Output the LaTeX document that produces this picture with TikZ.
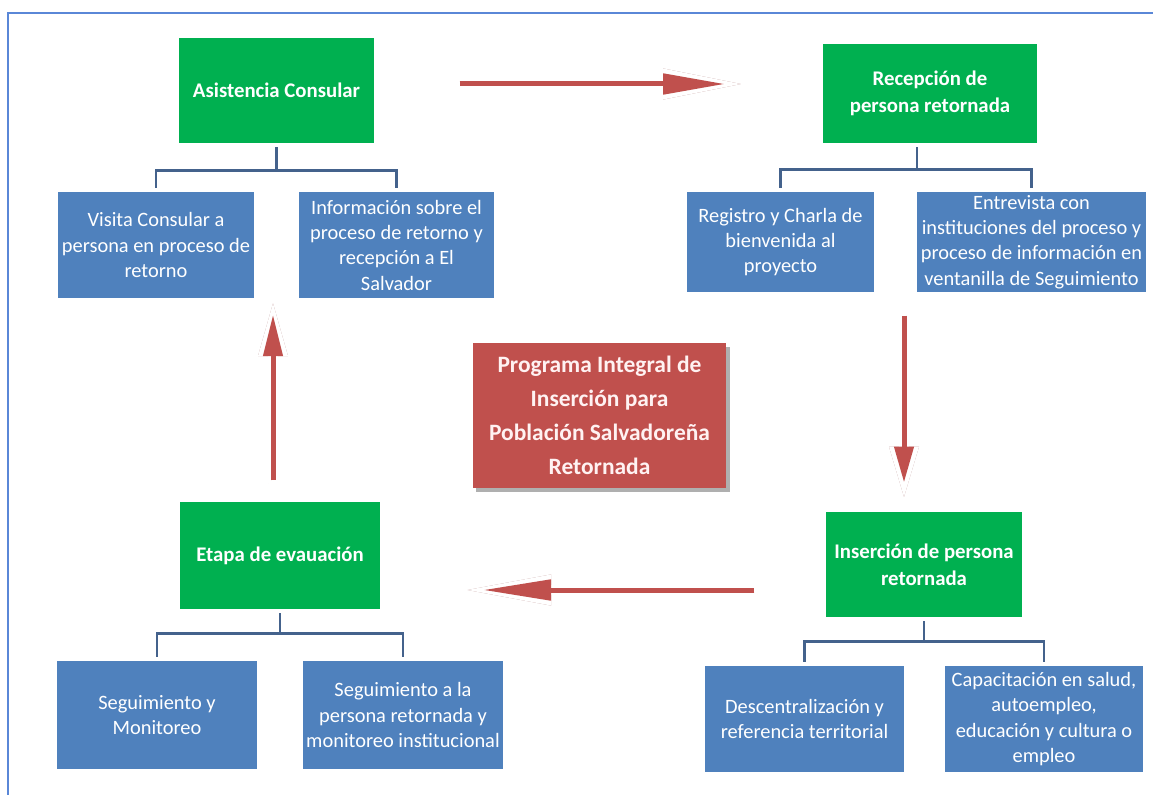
\documentclass[tikz,border=0pt]{standalone}
\usepackage{fontspec}
\setmainfont{Carlito}
\usetikzlibrary{arrows.meta}
\definecolor{cgreen}{RGB}{0,176,80}
\definecolor{cblue}{RGB}{79,129,189}
\definecolor{cred}{RGB}{192,80,77}
\definecolor{cconn}{RGB}{68,98,140}
\definecolor{cframe}{RGB}{90,135,215}
\definecolor{cshadow}{RGB}{185,140,140}
\definecolor{cboxshadow}{RGB}{175,175,175}
\definecolor{ctext}{RGB}{255,242,242}
\begin{document}
\begin{tikzpicture}[x=0.75pt,y=-0.75pt,
  greenbox/.style={fill=cgreen, text=white, font=\fontsize{15.6}{20}\selectfont\bfseries, align=center, inner sep=1pt},
  bluebox/.style={fill=cblue, text=white, font=\fontsize{15.3}{19}\selectfont, align=center, inner sep=0.5pt},
  redbox/.style={fill=cred, text=ctext, font=\fontsize{17.6}{25.5}\selectfont\bfseries, align=center, inner sep=1pt},
  conn/.style={draw=cconn, line width=2.2pt, shorten >=3pt, shorten <=3pt},
  frameline/.style={draw=cframe, line width=1.6pt},
]
\useasboundingbox (0,0) rectangle (1153,795);
\draw[frameline] (1153,13) -- (8,13) -- (8,795);

% phase boxes
\node[greenbox, minimum width=146.25pt, minimum height=78.75pt] (asis) at (276.5,90.5) {Asistencia Consular};
\node[greenbox, minimum width=160.5pt, minimum height=74.25pt] (recep) at (930,93.5) {Recepción de\\persona retornada};
\node[greenbox, minimum width=150pt, minimum height=80.25pt] (etapa) at (280,555.5) {Etapa de evauación};
\node[greenbox, minimum width=147pt, minimum height=78.75pt] (inser) at (924,564.5) {Inserción de persona\\retornada};

% detail boxes
\node[bluebox, minimum width=147pt, minimum height=79.5pt] (visita) at (156,245) {Visita Consular a\\persona en proceso de\\retorno};
\node[bluebox, minimum width=146.25pt, minimum height=79.5pt] (info) at (396.5,245) {Información sobre el\\proceso de retorno y\\recepción a El\\Salvador};
\node[bluebox, minimum width=140.25pt, minimum height=75pt] (registro) at (780.5,242) {Registro y Charla de\\bienvenida al\\proyecto};
\node[bluebox, minimum width=171.75pt, minimum height=75pt] (entre) at (1031.5,242) {Entrevista con\\instituciones del proceso y\\proceso de información en\\ventanilla de Seguimiento};
\node[bluebox, minimum width=150pt, minimum height=81pt] (segmon) at (157,715) {Seguimiento y\\Monitoreo};
\node[bluebox, minimum width=150pt, minimum height=81pt] (segla) at (403,715) {Seguimiento a la\\persona retornada y\\monitoreo institucional};
\node[bluebox, minimum width=149.25pt, minimum height=79.5pt] (descen) at (804.5,719) {Descentralización y\\referencia territorial};
\node[bluebox, minimum width=148.5pt, minimum height=79.5pt] (capac) at (1044,719) {Capacitación en salud,\\autoempleo,\\educación y cultura o\\empleo};

% central box with shadow
\fill[cboxshadow] (476,347) rectangle (730,492);
\node[redbox, minimum width=189.75pt, minimum height=108.75pt] (central) at (599.5,415.5) {Programa Integral de\\Inserción para\\Población Salvadoreña\\Retornada};

% tree connectors
\draw[conn] (asis.south) -- ++(0,27) -| (visita.north);
\draw[conn] (asis.south) -- ++(0,27) -| (info.north);
\draw[conn] ([xshift=-9.75pt]recep.south) -- ++(0,26) -| (registro.north);
\draw[conn] ([xshift=-9.75pt]recep.south) -- ++(0,26) -| (entre.north);
\draw[conn] (etapa.south) -- ++(0,24) -| (segmon.north);
\draw[conn] (etapa.south) -- ++(0,24) -| (segla.north);
\draw[conn] (inser.south) -- ++(0,24) -| (descen.north);
\draw[conn] (inser.south) -- ++(0,24) -| (capac.north);

% big process arrows
\coordinate (a1s) at (457,84);  \coordinate (a1t) at (745,84);
\coordinate (a2s) at (904,313); \coordinate (a2t) at (904,500);
\coordinate (a3s) at (757,590); \coordinate (a3t) at (463,590);
\coordinate (a4s) at (273,483); \coordinate (a4t) at (273,300);

% arrow 1 (right)
\draw[cshadow, line width=7.5pt, shift={(3,5)}, -{Triangle[length=61.5pt, width=21pt]}] (a1s) -- (a1t);
\draw[white, line width=7.5pt, -{Triangle[length=61.5pt, width=21pt]}] (a1s) -- (a1t);
\draw[cred, line width=3.75pt, shorten <=2pt, shorten >=15pt, -{Triangle[length=46.5pt, width=15pt]}] (a1s) -- (a1t);
% arrow 2 (down)
\draw[cshadow, line width=7.5pt, shift={(4,3)}, -{Triangle[length=40pt, width=20pt]}] (a2s) -- (a2t);
\draw[white, line width=7.5pt, -{Triangle[length=40pt, width=20pt]}] (a2s) -- (a2t);
\draw[cred, line width=3.75pt, shorten <=2pt, shorten >=13pt, -{Triangle[length=27pt, width=14pt]}] (a2s) -- (a2t);
% arrow 3 (left)
\draw[cshadow, line width=7.5pt, shift={(3,5)}, -{Triangle[length=66pt, width=21pt]}] (a3s) -- (a3t);
\draw[white, line width=7.5pt, -{Triangle[length=66pt, width=21pt]}] (a3s) -- (a3t);
\draw[cred, line width=3.75pt, shorten <=2pt, shorten >=15pt, -{Triangle[length=51pt, width=15pt]}] (a3s) -- (a3t);
% arrow 4 (up)
\draw[cshadow, line width=7.5pt, shift={(3,5)}, -{Triangle[length=42pt, width=20pt]}] (a4s) -- (a4t);
\draw[white, line width=7.5pt, -{Triangle[length=42pt, width=20pt]}] (a4s) -- (a4t);
\draw[cred, line width=3.75pt, shorten <=2pt, shorten >=11pt, -{Triangle[length=31pt, width=14pt]}] (a4s) -- (a4t);
\end{tikzpicture}
\end{document}
